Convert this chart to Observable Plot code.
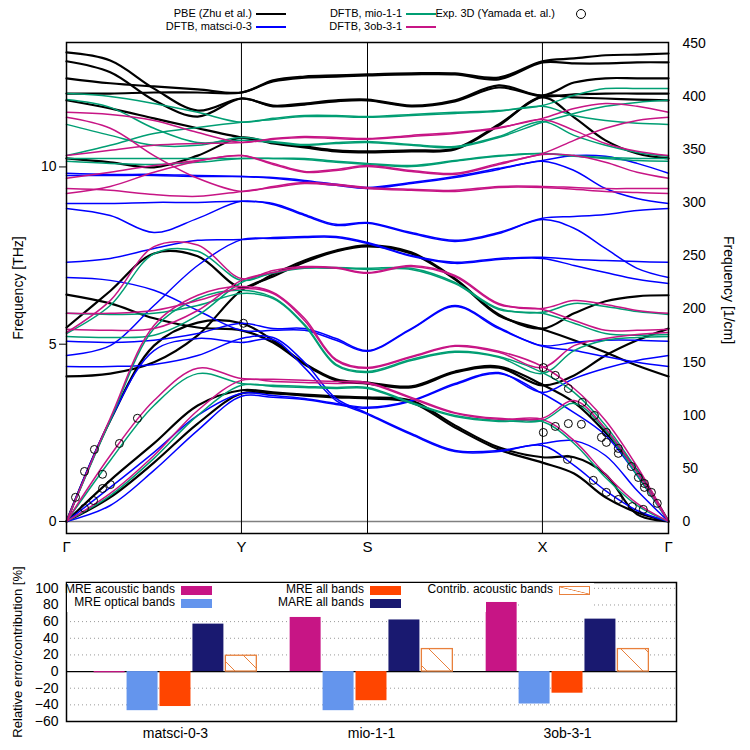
<!DOCTYPE html>
<html>
<head>
<meta charset="utf-8">
<script src="https://cdn.jsdelivr.net/npm/d3@7"></script>
<script src="https://cdn.jsdelivr.net/npm/@observablehq/plot@0.6"></script>
<style>
  body { margin: 0; background: #fff; }
  #wrap { position: relative; width: 750px; height: 750px; font-family: "Liberation Sans", Arial, sans-serif; color: #000; }
  .abs { position: absolute; white-space: nowrap; }
</style>
</head>
<body>
<div id="wrap">
  <div id="topChart"></div>
  <div id="botChart"></div>
</div>
<script>
// ---------- k-path ----------
const kTicks = [0, 0.952, 1.638, 2.590, 3.276];
const kLabels = ["Γ", "Y", "S", "X", "Γ"];
const kPath = [0, 0.238, 0.476, 0.714, 0.952, 1.124, 1.295, 1.467, 1.638, 1.876, 2.114, 2.352, 2.590, 2.762, 2.933, 3.105, 3.276];
const thzTicks = [0, 5, 10];
const cmTicks = [0, 50, 100, 150, 200, 250, 300, 350, 400, 450];
const cmPerTHz = 33.356;

// ---------- bands (THz) ----------
const pbeBands = [
  [13.23,13.00,12.21,11.59,11.93, 11.73,11.79,11.88,11.90, 11.73,11.88,12.30,12.02, 12.38,12.50,12.50,12.50],
  [12.98,12.67,11.88,11.42,11.93, 11.71,11.76,11.85,11.88, 11.71,11.85,12.24,11.99, 12.05,12.07,12.07,12.07],
  [12.50,12.36,12.27,12.19,12.10, 12.44,12.55,12.58,12.61, 12.64,12.64,12.52,12.98, 13.06,13.15,13.17,13.20],
  [12.07,12.07,12.10,12.10,12.10, 12.41,12.52,12.55,12.58, 12.61,12.61,12.47,12.95, 12.92,12.92,12.95,12.95],
  [11.88,11.65,11.37,11.09,10.83, 10.69,10.58,10.47,10.44, 10.47,10.52,11.20,11.99, 11.96,11.93,11.90,11.88],
  [10.24,10.13,9.99,10.32,10.83, 10.66,10.55,10.44,10.41, 10.44,10.49,11.17,11.96, 11.40,10.75,10.38,10.24],
  [5.47,6.50,7.56,7.48,6.60, 6.97,7.36,7.64,7.79, 7.59,6.85,5.84,5.44, 5.87,6.21,6.35,6.38],
  [4.09,4.17,4.49,5.25,6.52, 6.91,7.31,7.62,7.76, 7.56,6.83,5.81,5.42, 5.11,4.77,4.40,4.09],
  [6.40,6.15,5.73,5.47,5.39, 5.05,4.43,3.98,3.89, 3.78,4.20,4.34,3.84, 4.12,4.68,5.11,5.44],
  [0,2.85,4.96,5.61,5.59, 5.11,4.46,4.01,3.92, 3.81,4.23,4.37,3.86, 3.36,2.51,1.44,0],
  [0,1.16,2.20,3.27,3.70, 3.64,3.58,3.53,3.50, 3.41,2.71,2.09,1.81, 1.81,1.33,0.20,0],
  [0,0.68,1.66,2.76,3.61, 3.61,3.55,3.50,3.47, 3.36,2.65,2.03,1.66, 1.35,0.68,0.25,0]
];
const matsciBands = [
  [9.82,9.79,9.79,9.76,9.73, 9.70,9.62,9.51,9.42, 9.56,9.73,9.96,10.18, 10.32,10.30,10.10,9.82],
  [9.76,9.76,9.76,9.73,9.73, 9.68,9.59,9.48,9.39, 9.53,9.70,9.93,10.16, 9.90,9.39,9.11,8.97],
  [8.97,8.97,9.00,9.00,9.03, 8.97,8.66,8.38,8.43, 8.15,7.93,8.15,8.55, 8.60,8.66,8.77,8.83],
  [8.83,8.63,8.15,8.55,9.03, 8.94,8.63,8.35,8.41, 8.12,7.90,8.12,8.52, 8.27,7.70,7.14,6.88],
  [7.31,7.42,7.70,7.93,7.95, 8.01,8.04,8.04,7.87, 7.50,7.31,7.42,7.45, 7.39,7.36,7.33,7.31],
  [4.68,4.96,6.09,7.22,7.95, 7.98,8.01,8.01,7.84, 7.48,7.28,7.39,7.42, 7.22,7.02,6.83,6.71],
  [5.08,5.05,5.11,5.30,5.59, 5.44,5.44,5.16,4.82, 5.44,6.09,5.47,4.96, 5.05,5.11,5.11,5.08],
  [6.88,6.80,6.52,5.95,5.39, 5.39,5.39,5.11,4.80, 5.42,6.06,5.44,4.94, 4.82,4.65,4.49,4.37],
  [4.37,4.37,4.43,4.68,5.16, 5.19,4.49,3.47,3.05, 2.48,2.00,2.00,2.20, 2.28,1.86,0.87,0],
  [0,2.85,4.82,5.16,5.05, 5.13,4.34,3.41,3.02, 2.45,1.97,1.97,2.14, 1.58,0.87,0.31,0],
  [0,0.96,1.95,2.99,3.61, 3.55,3.47,3.33,3.22, 3.41,3.89,4.20,3.64, 4.03,4.32,4.54,4.68],
  [0,0.45,1.44,2.57,3.53, 3.50,3.44,3.30,3.19, 3.39,3.86,4.17,3.61, 3.07,2.43,1.30,0]
];
const mioBands = [
  [12.07,11.99,11.79,11.54,11.26, 11.37,11.45,11.45,11.42, 11.48,11.54,11.59,11.73, 12.02,12.21,12.21,12.21],
  [10.32,10.61,10.94,11.11,11.26, 11.34,11.42,11.42,11.40, 11.45,11.51,11.57,11.71, 11.45,11.31,11.23,11.20],
  [11.90,11.68,11.09,10.69,10.75, 10.69,10.61,10.66,10.69, 10.61,10.55,10.83,11.26, 11.51,11.71,11.82,11.88],
  [11.20,10.89,10.61,10.61,10.83, 10.72,10.63,10.69,10.72, 10.63,10.58,10.86,11.28, 10.89,10.61,10.41,10.30],
  [10.24,10.24,10.24,10.24,10.24, 10.24,10.24,10.16,10.10, 10.04,10.18,10.32,10.38, 10.32,10.27,10.24,10.24],
  [10.16,10.10,10.07,10.13,10.24, 10.24,10.21,10.13,10.07, 10.01,10.16,10.30,10.38, 10.30,10.24,10.18,10.16],
  [5.30,6.09,7.55,7.62,6.80, 7.02,7.16,7.16,7.14, 7.14,6.74,6.01,5.90, 6.15,6.06,5.92,5.84],
  [5.22,5.19,5.25,5.81,6.74, 7.00,7.14,7.14,7.11, 7.11,6.71,5.98,5.87, 5.59,5.30,5.25,5.27],
  [5.87,5.84,5.87,6.09,6.43, 6.29,5.53,4.40,4.20, 4.54,4.77,4.63,4.17, 4.82,5.11,5.19,5.22],
  [0,2.85,5.44,6.29,6.52, 6.32,5.56,4.43,4.23, 4.57,4.80,4.65,4.20, 3.64,2.71,1.44,0],
  [0,1.72,3.27,4.17,3.89, 3.84,3.81,3.78,3.78, 3.36,2.99,2.85,2.85, 3.33,2.57,1.30,0],
  [0,0.73,1.78,2.99,3.84, 3.81,3.78,3.75,3.75, 3.33,2.96,2.82,2.82, 2.20,1.24,0.45,0]
];
const ob3Bands = [
  [5.33,6.23,7.75,7.80,6.85, 7.08,7.19,7.16,7.02, 7.22,6.94,6.15,6.01, 6.23,6.12,5.95,5.87],
  [5.42,5.39,5.44,5.95,6.80, 7.02,7.16,7.14,7.00, 7.19,6.91,6.12,5.98, 5.67,5.39,5.39,5.42],
  [5.87,5.87,5.95,6.23,6.57, 6.43,5.67,4.54,4.32, 4.63,4.94,4.77,4.34, 4.96,5.16,5.27,5.33],
  [0,2.91,5.53,6.38,6.63, 6.46,5.73,4.57,4.34, 4.65,4.96,4.80,4.37, 3.75,2.85,1.55,0],
  [0,1.86,3.41,4.32,4.03, 4.01,3.98,3.95,3.92, 3.50,3.07,2.91,2.91, 3.41,2.62,1.38,0],
  [0,0.79,1.86,3.13,3.98, 3.95,3.92,3.89,3.89, 3.47,3.05,2.88,2.88, 2.28,1.33,0.51,0],
  [11.54,11.48,11.31,10.97,10.69, 10.80,10.86,10.83,10.80, 10.89,10.97,11.11,11.37, 11.65,11.79,11.71,11.54],
  [10.32,10.47,10.61,10.66,10.69, 10.78,10.83,10.80,10.78, 10.86,10.94,11.09,11.34, 11.03,10.66,10.44,10.32],
  [9.68,9.85,10.04,10.18,10.32, 10.10,9.87,9.93,10.04, 9.90,9.82,10.10,10.38, 10.75,11.09,11.31,11.40],
  [9.25,9.45,9.85,10.16,10.32, 10.07,9.85,9.90,10.01, 9.87,9.79,10.07,10.35, 10.32,10.13,9.85,9.68],
  [11.40,11.09,10.32,9.68,9.31, 9.45,9.56,9.51,9.42, 9.37,9.34,9.45,9.45, 9.42,9.39,9.39,9.39],
  [9.39,9.34,9.22,9.17,9.31, 9.42,9.53,9.48,9.39, 9.34,9.31,9.42,9.42, 9.37,9.31,9.28,9.25]
];

// experimental points (Yamada et al.)
const expK = [0.049,0.098,0.098,0.147,0.152,0.196,0.196,0.239,0.288,0.386,0.963,
  2.595,2.660,2.731,2.807,2.873,2.938,2.911,2.938,3.003,3.003,3.074,3.112,3.145,3.183,3.215,
  2.595,2.660,2.731,2.802,2.726,2.867,2.938,3.003,3.079,3.139,3.145];
const expF = [0.68,0.37,1.41,0.59,2.03,1.33,0.93,1.04,2.20,2.91,5.59,
  4.34,4.12,3.75,3.36,2.99,2.51,2.37,2.23,2.06,1.92,1.55,1.24,1.07,0.82,0.51,
  2.51,2.68,2.76,2.74,1.75,1.16,0.82,0.62,0.42,0.34,0.96];

// ---------- error bars ----------
const models = ["matsci-0-3", "mio-1-1", "3ob-3-1"];
const mreAcoustic = [-1.5, 65, 83];
const mreOptical = [-47, -47, -39];
const mreAll = [-42, -35, -26];
const mareAll = [57, 62, 63];
const contribAcoustic = [19, 27, 27];
const barTicks = [-60, -40, -20, 0, 20, 40, 60, 80, 100];
const gridTicks = [-40, -20, 20, 40, 60, 80, 100];

const colPBE = "#000000", colMatsci = "#0000ff", colMio = "#009e73", col3ob = "#c71585";
const barColors = ["#c71585", "#6495ed", "#ff4500", "#191970"];
const hatchColor = "#e8803c";

function toRows(bands) {
  return bands.flatMap((b, bi) => b.map((f, i) => ({band: bi, k: kPath[i], f})));
}
const expData = expK.map((k, i) => ({k, f: expF[i]}));

const fontFam = "'Liberation Sans', Arial, sans-serif";

const topPlot = Plot.plot({
  width: 750, height: 556,
  marginLeft: 66, marginRight: 82, marginTop: 42, marginBottom: 23,
  style: {fontFamily: fontFam, fontSize: "14px", color: "#000", background: "#fff", overflow: "visible"},
  x: {domain: [kTicks[0], kTicks[4]]},
  y: {domain: [-0.34, 13.51]},
  marks: [
    Plot.ruleY([0], {stroke: "#808080", strokeWidth: 1.5}),
    Plot.ruleX(kTicks.slice(1, 4), {stroke: "#000", strokeWidth: 1}),
    Plot.line(toRows(pbeBands), {x: "k", y: "f", z: "band", stroke: colPBE, strokeWidth: 2.2, curve: "catmull-rom"}),
    Plot.line(toRows(matsciBands), {x: "k", y: "f", z: "band", stroke: colMatsci, strokeWidth: 1.5, curve: "catmull-rom"}),
    Plot.line(toRows(mioBands), {x: "k", y: "f", z: "band", stroke: colMio, strokeWidth: 1.5, curve: "catmull-rom"}),
    Plot.line(toRows(ob3Bands), {x: "k", y: "f", z: "band", stroke: col3ob, strokeWidth: 1.5, curve: "catmull-rom"}),
    Plot.dot(expData, {x: "k", y: "f", r: 4, stroke: "#000", strokeWidth: 1, fill: "none"}),
    Plot.frame({stroke: "#000", strokeWidth: 1.5}),
    Plot.axisX({ticks: kTicks, tickFormat: d => kLabels[kTicks.indexOf(d)], tickSize: 0, tickPadding: 8, fontSize: 15, label: null}),
    Plot.axisY({ticks: thzTicks, tickSize: 7, tickPadding: 3, fontSize: 14, label: null}),
    Plot.axisY({anchor: "right", ticks: cmTicks.map(c => c / cmPerTHz), tickFormat: d => String(Math.round(d * cmPerTHz)), tickSize: 0, tickPadding: 14, fontSize: 14, label: null})
  ]
});
document.getElementById("topChart").appendChild(topPlot);

// ---------- bottom chart ----------
const barSeries = [mreAcoustic, mreOptical, mreAll, mareAll, contribAcoustic];
const bars = models.flatMap((m, gi) => barSeries.map((arr, si) => ({gi, si, value: arr[gi]})));
const barStep = 0.168, barW = 0.158;
const bx1 = d => d.gi + (d.si - 2) * barStep - barW / 2;
const bx2 = d => d.gi + (d.si - 2) * barStep + barW / 2;

const botPlot = Plot.plot({
  width: 750, height: 194,
  marginLeft: 66, marginRight: 74, marginTop: 26, marginBottom: 29,
  style: {fontFamily: fontFam, fontSize: "14px", color: "#000", background: "transparent", overflow: "visible"},
  x: {domain: [-0.556, 2.556]},
  y: {domain: [-60, 107]},
  color: {type: "identity"},
  marks: [
    Plot.ruleY(gridTicks, {stroke: "#999", strokeDasharray: "1,3"}),
    Plot.ruleY([0], {stroke: "#000", strokeWidth: 1.3}),
    Plot.rectY(bars.filter(d => d.si < 4), {x1: bx1, x2: bx2, y1: 0, y2: "value", fill: d => barColors[d.si]}),
    Plot.rectY(bars.filter(d => d.si === 4), {x1: bx1, x2: bx2, y1: 0, y2: "value", fill: "url(#hatch)", stroke: hatchColor, strokeWidth: 1.3}),
    Plot.frame({stroke: "#000", strokeWidth: 1.5}),
    Plot.axisX({ticks: [0, 1, 2], tickFormat: d => models[d], tickSize: 0, tickPadding: 7, fontSize: 14, label: null}),
    Plot.axisY({ticks: barTicks, tickSize: 0, tickPadding: 8, fontSize: 14, label: null})
  ]
});
const ns = "http://www.w3.org/2000/svg";
const defs = document.createElementNS(ns, "defs");
defs.innerHTML = `<pattern id="hatch" patternUnits="userSpaceOnUse" width="24" height="24">
  <rect width="24" height="24" fill="#fff"/>
  <path d="M0,0 L24,24 M-12,12 L12,36 M12,-12 L36,12" stroke="${hatchColor}" stroke-width="1"/>
</pattern>`;
botPlot.insertBefore(defs, botPlot.firstChild);
document.getElementById("botChart").appendChild(botPlot);

// ---------- legends & labels (HTML) ----------
const wrap = document.getElementById("wrap");
function addText(txt, x, y, size, align) {
  const d = document.createElement("div");
  d.className = "abs";
  d.style.fontSize = size + "px";
  d.style.lineHeight = "1";
  d.style.top = (y - size * 0.55) + "px";
  if (align === "right") { d.style.right = (750 - x) + "px"; d.style.textAlign = "right"; }
  else d.style.left = x + "px";
  d.textContent = txt;
  wrap.appendChild(d);
  return d;
}
function addLine(x1, x2, y, color, w) {
  const d = document.createElement("div");
  d.className = "abs";
  d.style.left = x1 + "px"; d.style.width = (x2 - x1) + "px";
  d.style.top = (y - w / 2) + "px"; d.style.height = w + "px";
  d.style.background = color;
  wrap.appendChild(d);
}
function addBox(x1, x2, y1, y2, fill, stroke, hatch) {
  const d = document.createElement("div");
  d.className = "abs";
  d.style.left = x1 + "px"; d.style.width = (x2 - x1) + "px";
  d.style.top = y1 + "px"; d.style.height = (y2 - y1) + "px";
  d.style.boxSizing = "border-box";
  d.style.background = fill;
  if (stroke) d.style.border = "1px solid " + stroke;
  if (hatch) d.style.backgroundImage = `linear-gradient(to bottom left, transparent calc(50% - 0.7px), ${stroke} 50%, transparent calc(50% + 0.7px))`;
  wrap.appendChild(d);
  return d;
}
const topLegend = [
  {t: "PBE (Zhu et al.)", x: 252, y: 14, c: colPBE, w: 2.2},
  {t: "DFTB, matsci-0-3", x: 252, y: 27, c: colMatsci, w: 1.5},
  {t: "DFTB, mio-1-1", x: 402, y: 14, c: colMio, w: 1.5},
  {t: "DFTB, 3ob-3-1", x: 402, y: 27, c: col3ob, w: 1.5}
];
topLegend.forEach(e => { addText(e.t, e.x, e.y, 11, "right"); addLine(e.x + 4, e.x + 34, e.y, e.c, e.w); });
addText("Exp. 3D (Yamada et. al.)", 555, 14, 11, "right");
const circ = document.createElement("div");
circ.className = "abs";
Object.assign(circ.style, {left: "576px", top: "9px", width: "8px", height: "8px", border: "1px solid #000", borderRadius: "50%"});
wrap.appendChild(circ);

// key area of the bottom panel: white boxes hide the dotted grid, bars remain visible
const botSvgHost = document.getElementById("botChart");
botSvgHost.style.position = "relative";
botSvgHost.style.zIndex = "1";
[[67, 594, 583, 597], [67, 486, 597, 612], [519, 594, 597, 612]].forEach(b => {
  const d = addBox(b[0], b[1], b[2], b[3], "#fff");
  d.style.zIndex = "2";
});
const botLegend = [
  {t: "MRE acoustic bands", x: 175, y: 590, i: 0},
  {t: "MRE optical bands", x: 175, y: 603, i: 1},
  {t: "MRE all bands", x: 364, y: 590, i: 2},
  {t: "MARE all bands", x: 364, y: 603, i: 3}
];
function z3(el) { el.style.zIndex = "3"; }
botLegend.forEach(e => {
  z3(addText(e.t, e.x, e.y, 12, "right"));
  z3(addBox(e.x + 6, e.x + 37, e.y - 4, e.y + 5, barColors[e.i]));
});
z3(addText("Contrib. acoustic bands", 553, 590, 12, "right"));
z3(addBox(559, 590, 586, 595, "#fff", hatchColor, true));

function addRotLabel(txt, cx, cy, deg, size) {
  const d = document.createElement("div");
  d.className = "abs";
  d.style.fontSize = size + "px";
  d.style.lineHeight = "1";
  d.style.left = cx + "px"; d.style.top = cy + "px";
  d.style.transform = `translate(-50%, -50%) rotate(${deg}deg)`;
  d.textContent = txt;
  wrap.appendChild(d);
}
addRotLabel("Frequency [THz]", 18, 288, -90, 14);
addRotLabel("Frequency [1/cm]", 729, 290, 90, 14);
addRotLabel("Relative error/contribution [%]", 17, 652, -90, 13);
</script>
</body>
</html>
